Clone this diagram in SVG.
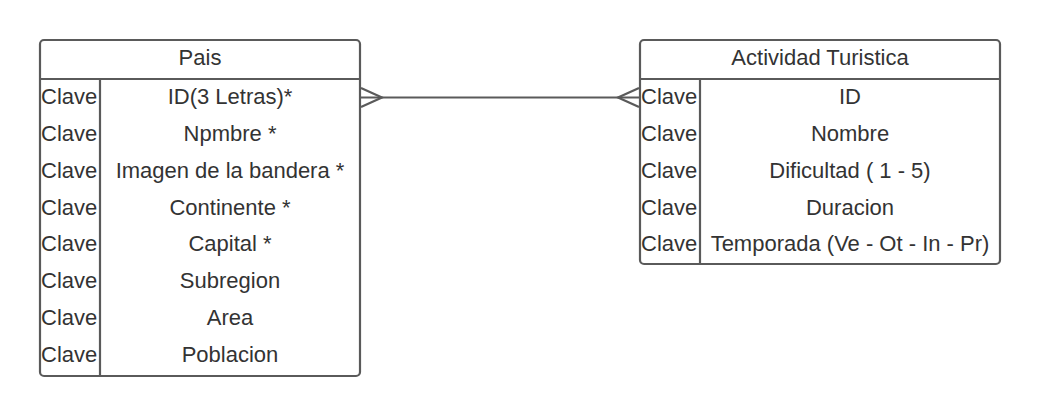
<svg xmlns="http://www.w3.org/2000/svg" width="1040" height="416" viewBox="0 0 1040 416">
<style>
.box{fill:#fff;stroke:#5a5a5a;stroke-width:2.2}
.ln{stroke:#5a5a5a;stroke-width:2.2;fill:none}
text{font-family:"Liberation Sans",Arial,sans-serif;font-size:22px;fill:#333;dominant-baseline:central}
.c{text-anchor:middle}
</style>
<rect width="1040" height="416" fill="#fff"/>
<g id="pais">
<rect class="box" x="40" y="40" width="320" height="336" rx="4"/>
<line class="ln" x1="40" y1="79" x2="360" y2="79"/>
<line class="ln" x1="100" y1="79" x2="100" y2="376"/>
<text class="c" x="200" y="57">Pais</text>
<text x="41" y="96.5">Clave</text><text class="c" x="230" y="96.5">ID(3 Letras)*</text>
<text x="41" y="133">Clave</text><text class="c" x="230" y="133">Npmbre *</text>
<text x="41" y="170">Clave</text><text class="c" x="230" y="170">Imagen de la bandera *</text>
<text x="41" y="207">Clave</text><text class="c" x="230" y="207">Continente *</text>
<text x="41" y="243">Clave</text><text class="c" x="230" y="243">Capital *</text>
<text x="41" y="280">Clave</text><text class="c" x="230" y="280">Subregion</text>
<text x="41" y="317">Clave</text><text class="c" x="230" y="317">Area</text>
<text x="41" y="354">Clave</text><text class="c" x="230" y="354">Poblacion</text>
</g>
<g id="actividad">
<rect class="box" x="640" y="40" width="360" height="224" rx="4"/>
<line class="ln" x1="640" y1="79" x2="1000" y2="79"/>
<line class="ln" x1="700" y1="79" x2="700" y2="264"/>
<text class="c" x="820" y="57">Actividad Turistica</text>
<text x="641" y="96.5">Clave</text><text class="c" x="850" y="96.5">ID</text>
<text x="641" y="133">Clave</text><text class="c" x="850" y="133">Nombre</text>
<text x="641" y="170">Clave</text><text class="c" x="850" y="170">Dificultad ( 1 - 5)</text>
<text x="641" y="207">Clave</text><text class="c" x="850" y="207">Duracion</text>
<text x="641" y="243">Clave</text><text class="c" x="850" y="243">Temporada (Ve - Ot - In - Pr)</text>
</g>
<g id="connectors">
<line class="ln" x1="361" y1="97.5" x2="639" y2="97.5"/>
<polyline class="ln" points="361,88 382,97.5 361,107"/>
<polyline class="ln" points="639,88 618,97.5 639,107"/>
</g>
</svg>
